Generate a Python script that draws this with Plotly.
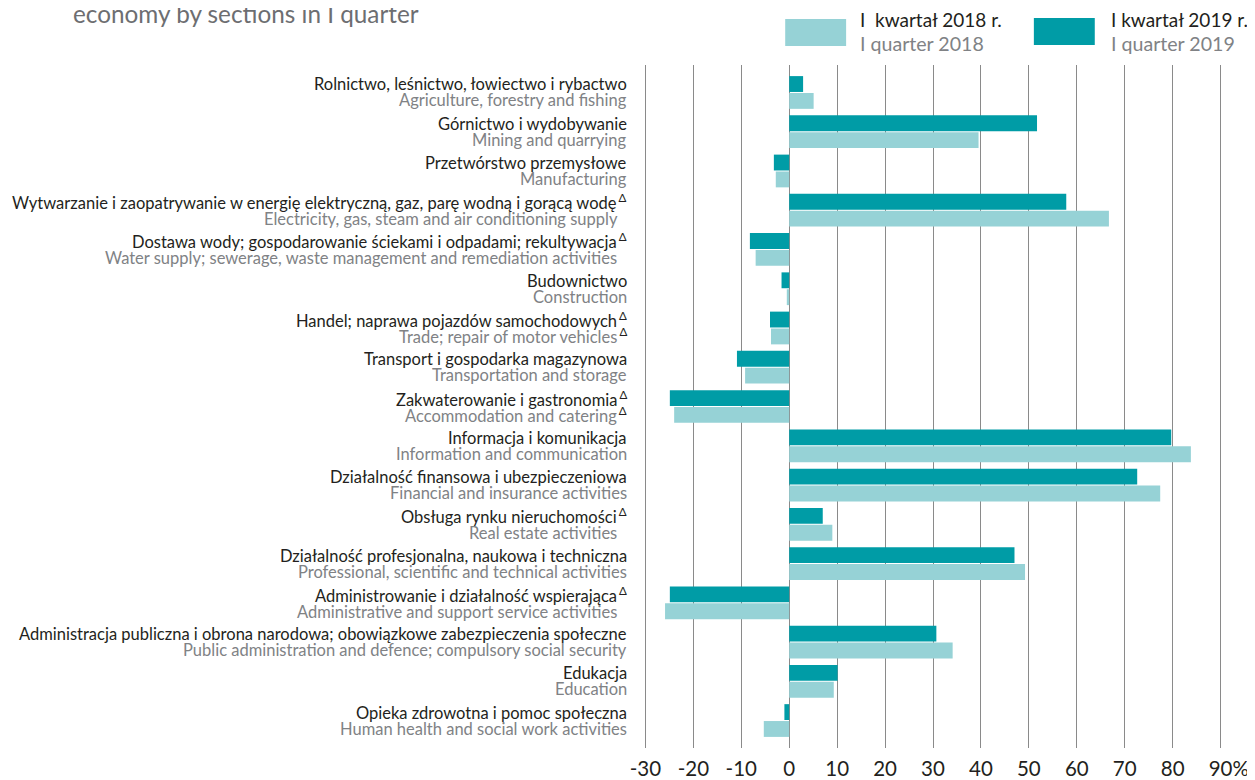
import plotly.graph_objects as go

# ---------------- data ----------------
sectors_pl = [
    "Rolnictwo, leśnictwo, łowiectwo i rybactwo",
    "Górnictwo i wydobywanie",
    "Przetwórstwo przemysłowe",
    "Wytwarzanie i zaopatrywanie w energię elektryczną, gaz, parę wodną i gorącą wodę",
    "Dostawa wody; gospodarowanie ściekami i odpadami; rekultywacja",
    "Budownictwo",
    "Handel; naprawa pojazdów samochodowych",
    "Transport i gospodarka magazynowa",
    "Zakwaterowanie i gastronomia",
    "Informacja i komunikacja",
    "Działalność finansowa i ubezpieczeniowa",
    "Obsługa rynku nieruchomości",
    "Działalność profesjonalna, naukowa i techniczna",
    "Administrowanie i działalność wspierająca",
    "Administracja publiczna i obrona narodowa; obowiązkowe zabezpieczenia społeczne",
    "Edukacja",
    "Opieka zdrowotna i pomoc społeczna",
]
sectors_en = [
    "Agriculture, forestry and fishing",
    "Mining and quarrying",
    "Manufacturing",
    "Electricity, gas, steam and air conditioning supply",
    "Water supply; sewerage, waste management and remediation activities",
    "Construction",
    "Trade; repair of motor vehicles",
    "Transportation and storage",
    "Accommodation and catering",
    "Information and communication",
    "Financial and insurance activities",
    "Real estate activities",
    "Professional, scientific and technical activities",
    "Administrative and support service activities",
    "Public administration and defence; compulsory social security",
    "Education",
    "Human health and social work activities",
]
mark_pl = [False, False, False, True, True, False, True, False, True,
           False, False, True, False, True, False, False, False]
mark_en = [False, False, False, False, False, False, True, False, True,
           False, False, False, False, False, False, False, False]

q1_2019 = [2.9, 51.7, -3.2, 57.8, -8.2, -1.6, -4.0, -10.9, -24.9,
           79.7, 72.6, 7.0, 47.0, -24.9, 30.7, 10.1, -1.0]
q1_2018 = [5.1, 39.5, -2.8, 66.7, -7.0, -0.5, -3.8, -9.2, -24.0,
           83.8, 77.4, 9.0, 49.2, -25.9, 34.1, 9.3, -5.3]

x_ticks = [-30, -20, -10, 0, 10, 20, 30, 40, 50, 60, 70, 80, 90]
x_ticktext = ["-30", "-20", "-10", "0", "10", "20", "30", "40", "50",
              "60", "70", "80",
              "<span style='color:rgba(0,0,0,0)'>%</span>90%"]

legend_pl = ["I  kwartał 2018 r.", "I kwartał 2019 r."]
legend_en = ["I quarter 2018", "I quarter 2019"]
title_text = "economy by sections in I quarter"

# ---------------- style ----------------
W, H = 1255, 780
OFF = 8.0  # page offset of the figure in the photographed window
# target plot area on the photographed page
PL, PR, PT, PB = 642.6, 1223.4, 65.0, 748.0
ML = PL - OFF
MR = W - (PR - OFF)
MT = PT - OFF
MB = H - (PB - OFF)

DARK = "#009CA6"
LIGHT = "#96D2D6"
TXT = "#231F20"
GREY = "#808285"
FONT = "Lato"
LBL = 16.5


def px(xp):
    return (xp - PL) / (PR - PL)


def py(yp):
    return (PB - yp) / (PB - PT)


fig = go.Figure()
fig.add_trace(go.Bar(y=sectors_pl, x=q1_2019, orientation="h",
                     marker=dict(color=DARK, line=dict(width=0)),
                     name=legend_pl[1], showlegend=False))
fig.add_trace(go.Bar(y=sectors_pl, x=q1_2018, orientation="h",
                     marker=dict(color=LIGHT, line=dict(width=0)),
                     name=legend_pl[0], showlegend=False))

INV = "\u2009<sup><span style='color:rgba(0,0,0,0)'>Δ</span></sup>"
VIS = "\u2009<sup><span style='color:%s'>Δ</span></sup>" % TXT
annotations = []
for i, (pl, en) in enumerate(zip(sectors_pl, sectors_en)):
    row_mark = mark_pl[i] or mark_en[i]
    t_pl = pl + (VIS if mark_pl[i] else (INV if row_mark else ""))
    t_en = en + (VIS if mark_en[i] else (INV if row_mark else ""))
    annotations.append(dict(x=px(629), y=pl, xref="paper", yref="y",
                            text=t_pl, showarrow=False, xanchor="right",
                            yanchor="middle", yshift=8,
                            font=dict(family=FONT, size=LBL, color=TXT)))
    annotations.append(dict(x=px(629), y=pl, xref="paper", yref="y",
                            text=t_en, showarrow=False, xanchor="right",
                            yanchor="middle", yshift=-8,
                            font=dict(family=FONT, size=LBL, color=GREY)))

# title fragment
annotations.append(dict(x=px(70), y=py(13), xref="paper", yref="paper",
                        text=title_text, showarrow=False, xanchor="left",
                        yanchor="middle",
                        font=dict(family=FONT, size=24.3, color="#6D6E71")))

# legend (manual)
shapes = []
leg = [(785, 19, LIGHT, 858), (1034, 18, DARK, 1109)]
for k, (x0, y0, col, tx) in enumerate(leg):
    shapes.append(dict(type="rect", xref="paper", yref="paper",
                       x0=px(x0), x1=px(x0 + 61), y0=py(y0), y1=py(y0 + 27),
                       fillcolor=col, line=dict(width=0)))
    annotations.append(dict(x=px(tx), y=py(19), xref="paper", yref="paper",
                            text=legend_pl[k], showarrow=False,
                            xanchor="left", yanchor="middle",
                            font=dict(family=FONT, size=19.0, color=TXT)))
    annotations.append(dict(x=px(tx), y=py(44), xref="paper", yref="paper",
                            text=legend_en[k], showarrow=False,
                            xanchor="left", yanchor="middle",
                            font=dict(family=FONT, size=19.6, color=GREY)))

fig.update_layout(
    width=W, height=H,
    margin=dict(l=ML, r=MR, t=MT, b=MB, pad=0, autoexpand=False),
    paper_bgcolor="white", plot_bgcolor="white",
    barmode="group", bargap=0.14, bargroupgap=0.06,
    font=dict(family=FONT, color=TXT),
    annotations=annotations, shapes=shapes,
    showlegend=False,
)
fig.update_xaxes(range=[-30.5, 90.5], tickvals=x_ticks, ticktext=x_ticktext,
                 automargin=False,
                 showgrid=True, gridcolor="#8A8A8A", gridwidth=1,
                 zeroline=True, zerolinecolor="#8A8A8A", zerolinewidth=1,
                 showline=False, ticks="", ticklabelstandoff=6,
                 tickfont=dict(family=FONT, size=20.5, color=TXT))
fig.update_yaxes(categoryorder="array", categoryarray=sectors_pl,
                 automargin=False,
                 range=[16.7, -0.7], showticklabels=False, showgrid=False,
                 zeroline=False, showline=False, ticks="")

fig.write_html("out.html")
